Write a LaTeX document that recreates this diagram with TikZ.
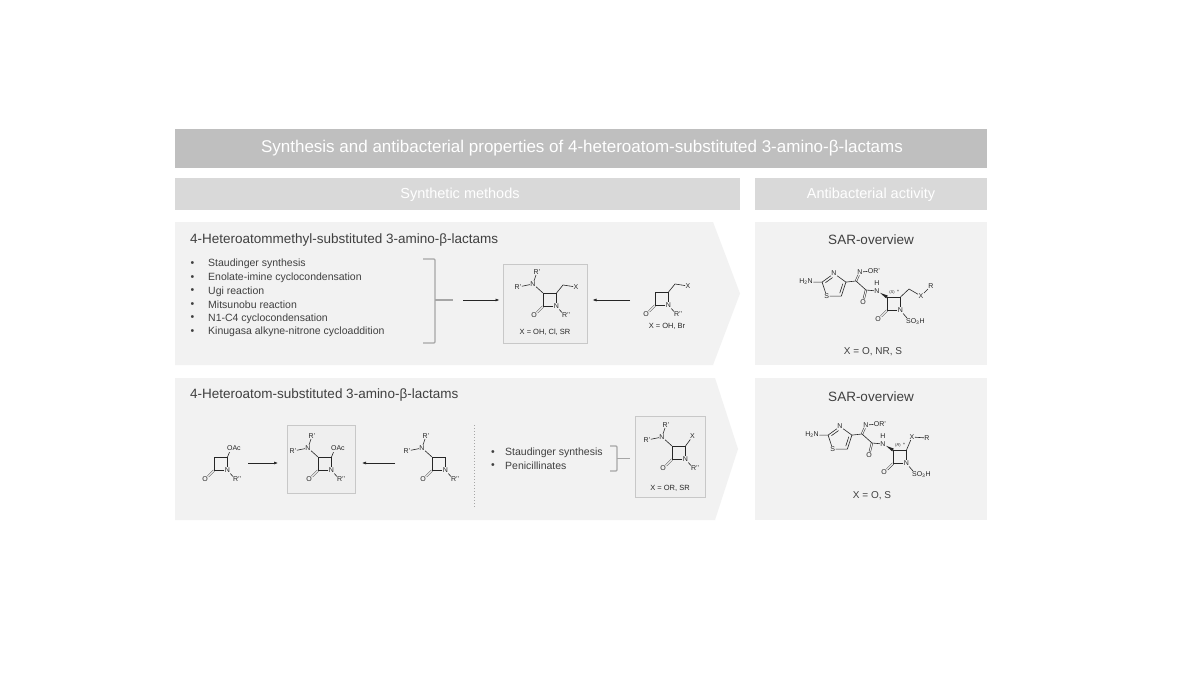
\documentclass[tikz,border=0pt]{standalone}
\usepackage{fontspec}
\setmainfont{Liberation Sans}
\usetikzlibrary{calc,arrows.meta}
\definecolor{hdr}{HTML}{BFBFBF}
\definecolor{subb}{HTML}{D9D9D9}
\definecolor{pbg}{HTML}{F2F2F2}
\definecolor{txt}{HTML}{404040}
\definecolor{brk}{HTML}{A6A6A6}
\definecolor{boxl}{HTML}{C8C8C8}
\definecolor{boxf}{HTML}{EFEFEF}
\definecolor{ink}{HTML}{262626}

% beta-lactam ring: #1 prefix, #2 N-substituent, #3 bond end, #4 label west anchor
\newcommand{\lactam}[4]{%
  \coordinate (#1c3) at (0,0);
  \coordinate (#1c4) at (13.5,0);
  \node[atom] (#1n1) at (13.5,13.5) {N};
  \coordinate (#1c2) at (0,13.5);
  \node[atom] (#1o) at (-9,22.5) {O};
  \coordinate (#1rb) at #3;
  \node[atom,anchor=west] (#1r) at #4 {#2};
  \draw[bond,dbl] (#1c2) -- (#1o);
  \draw[bond] (#1n1) -- (#1c2) -- (#1c3) -- (#1c4) -- (#1n1);
  \draw[bond] (#1n1) -- (#1rb);
}
% 3-amino substituent
\newcommand{\amine}[1]{%
  \node[atom] (#1na) at (-10,-9) {N};
  \node[atom] (#1rt) at (-6,-21) {R’};
  \node[atom] (#1rl) at (-25,-6) {R’};
  \draw[bond] (#1c3) -- (#1na);
  \draw[bond] (#1na) -- (#1rt);
  \draw[bond] (#1na) -- (#1rl);
}
% 4-acetoxy substituent
\newcommand{\acetoxy}[1]{%
  \coordinate (#1oacb) at (15.5,-4.8);
  \node[atom,anchor=west] (#1oac) at (12.5,-8.5) {OAc};
  \draw[bond] (#1c4) -- (#1oacb);
}
% SAR core (aminothiazolyl oxime side chain + monobactam)
\newcommand{\sarcore}[2]{%
  \coordinate (#1tc) at (-53,-11);
  \node[atom] (#1tn) at (-53,-23.5) {N};
  \coordinate (#1t4) at (-41.1,-14.9);
  \coordinate (#1t5) at (-45.65,-0.9);
  \node[atom] (#1ts) at (-60.35,-0.9) {S};
  \coordinate (#1t2) at (-64.9,-14.9);
  \node[atom] (#1nh) at (-81,-15) {H\textsubscript{2}N};
  \draw[bond] (#1t2) -- (#1tn) -- (#1t4) -- (#1t5) -- (#1ts) -- (#1t2);
  \draw[bond,shorten >=1.8pt,shorten <=0.6pt] ($(#1tc)!0.76!(#1t2)$) -- ($(#1tc)!0.76!(#1tn)$);
  \draw[bond,shorten >=0.6pt,shorten <=0.6pt] ($(#1tc)!0.76!(#1t4)$) -- ($(#1tc)!0.76!(#1t5)$);
  \draw[bond] (#1t2) -- (#1nh);
  \coordinate (#1ca) at (-31,-16);
  \node[atom] (#1nox) at (-27,-25) {N};
  \node[atom] (#1or) at (-13,-26) {OR’};
  \coordinate (#1cc) at (-21,-7);
  \node[atom] (#1oam) at (-24,5) {O};
  \node[atom] (#1nam) at (-10,-6) {N};
  \node[atom] (#1h) at (-10,-14) {H};
  \draw[bond,dbl] (#1ca) -- (#1nox);
  \draw[bond,dbl] (#1cc) -- (#1oam);
  \draw[bond] (#1t4) -- (#1ca) -- (#1cc) -- (#1nam);
  \draw[bond] (#1nox) -- (#1or);
  \lactam{#1}{SO\textsubscript{3}H}{(20,21)}{(18.5,25)}
  \fill[ink] ($(#1nam)!3.5pt!(#1c3)$) -- ($(#1c3)!1.6pt!90:(#1nam)$) -- ($(#1c3)!1.6pt!-90:(#1nam)$) -- cycle;
  \node[atom,font=\fontsize{4}{4}\selectfont] (#1st) at (5,-4.5) {(\textit{#2})};
  \node[atom,font=\fontsize{5}{5}\selectfont] (#1ast) at (11,-5) {*};
}

\begin{document}
\begin{tikzpicture}[x=1pt,y=-1pt,
  atom/.style={font=\fontsize{7}{7}\selectfont, inner sep=0.4pt, text=ink},
  bond/.style={draw=ink, line width=0.6pt},
  dbl/.style={double=pbg, double distance=1.1pt, line width=0.5pt},
  arr/.style={draw=ink, line width=0.65pt, -{Latex[length=4pt,width=3pt]}},
  brace/.style={draw=brk, line width=1.2pt, rounded corners=1pt},
  ttl/.style={font=\fontsize{13.5}{14}\selectfont, text=txt, anchor=west, inner sep=0},
  li/.style={font=\fontsize{10.5}{11}\selectfont, text=txt, anchor=west, inner sep=0},
  bul/.style={font=\fontsize{10.5}{11}\selectfont, text=txt, anchor=west, inner sep=0},
  boxst/.style={draw=boxl, fill=boxf, line width=1pt, inner sep=0},
  xlab/.style={font=\fontsize{7.5}{8}\selectfont, text=ink, inner sep=0},
  sarx/.style={font=\fontsize{10}{10}\selectfont, text=txt, inner sep=0}
]
\useasboundingbox (0,0) rectangle (1200,675);
\fill[white] (0,0) rectangle (1200,675);

% header bars
\fill[hdr] (175,129) rectangle (987,168);
\node[font=\fontsize{17}{17}\selectfont, text=white, inner sep=0] (title) at (582,148.5)
  {Synthesis and antibacterial properties of 4-heteroatom-substituted 3-amino-β-lactams};
\fill[subb] (175,178) rectangle (740,210);
\fill[subb] (755,178) rectangle (987,210);
\node[font=\fontsize{14.5}{14.5}\selectfont, text=white, inner sep=0] (synm) at (460,194.5) {Synthetic methods};
\node[font=\fontsize{14.5}{14.5}\selectfont, text=white, inner sep=0] (antb) at (871,194.5) {Antibacterial activity};

% panels
\fill[pbg] (175,222) -- (713,222) -- (740,293.5) -- (713,365) -- (175,365) -- cycle;
\fill[pbg] (175,378) -- (715,378) -- (738,449) -- (715,520) -- (175,520) -- cycle;
\fill[pbg] (755,222) rectangle (987,365);
\fill[pbg] (755,378) rectangle (987,520);

% ===== panel 1 =====
\node[ttl] (t1) at (190,240) {4-Heteroatommethyl-substituted 3-amino-β-lactams};
\foreach \i/\yy/\tx in {1/264/Staudinger synthesis, 2/278/Enolate-imine cyclocondensation,
  3/291.5/Ugi reaction, 4/305/Mitsunobu reaction, 5/318.5/N1-C4 cyclocondensation,
  6/332/Kinugasa alkyne-nitrone cycloaddition}{
  \node[bul] (pb\i) at (190.5,\yy) {•};
  \node[li] (pl\i) at (208,\yy) {\tx};
}
\coordinate (k1a) at (423,259);
\coordinate (k1b) at (435,259);
\coordinate (k1c) at (435,343);
\coordinate (k1d) at (423,343);
\coordinate (k1m) at (435,300);
\coordinate (k1t) at (453,300);
\draw[brace] (k1a) -- (k1b) -- (k1c) -- (k1d);
\draw[brace] (k1m) -- (k1t);

\node[boxst, minimum width=84pt, minimum height=79pt] (box1) at (545,303.5) {};
\coordinate (a1s) at (463,300);
\draw[arr, shorten >=3pt] (a1s) -- (box1.west |- a1s);
\coordinate (a2s) at (630,300);
\draw[arr, shorten >=5pt] (a2s) -- (box1.east |- a2s);

\begin{scope}[shift={(543,293)}]
  \lactam{m1}{R’’}{(19,19.5)}{(18.5,22)}
  \amine{m1}
  \coordinate (m1ch) at (20,-8);
  \node[atom] (m1x) at (33,-6) {X};
  \draw[bond] (m1c4) -- (m1ch) -- (m1x);
\end{scope}
\node[xlab] (x1) at (545,332) {X = OH, Cl, SR};

\begin{scope}[shift={(655,292)}]
  \lactam{m2}{R’’}{(19,19.5)}{(18.5,22)}
  \coordinate (m2ch) at (20,-8);
  \node[atom] (m2x) at (33,-6) {X};
  \draw[bond] (m2c4) -- (m2ch) -- (m2x);
\end{scope}
\node[xlab] (x2) at (667,326) {X = OH, Br};

% ===== panel 2 =====
\node[ttl] (t2) at (190,395) {4-Heteroatom-substituted 3-amino-β-lactams};

\begin{scope}[shift={(214,457)}]
  \lactam{m3}{R’’}{(19,19.5)}{(18.5,22)}
  \acetoxy{m3}
\end{scope}

\node[boxst, minimum width=68pt, minimum height=68pt] (box2) at (321,459) {};
\coordinate (b1s) at (248,463);
\coordinate (b1e) at (278,463);
\draw[arr] (b1s) -- (b1e);
\coordinate (b2s) at (395,463);
\coordinate (b2e) at (362,463);
\draw[arr] (b2s) -- (b2e);

\begin{scope}[shift={(318,457)}]
  \lactam{m4}{R’’}{(19,19.5)}{(18.5,22)}
  \amine{m4}
  \acetoxy{m4}
\end{scope}

\begin{scope}[shift={(432,457)}]
  \lactam{m5}{R’’}{(19,19.5)}{(18.5,22)}
  \amine{m5}
\end{scope}

\coordinate (dv1) at (474,425);
\coordinate (dv2) at (474,507);
\draw[brk, line width=1pt, dotted] (dv1) -- (dv2);

\node[bul] (qb1) at (491,453) {•};
\node[li] (ql1) at (505,453) {Staudinger synthesis};
\node[bul] (qb2) at (491,466) {•};
\node[li] (ql2) at (505,466) {Penicillinates};
\coordinate (k2a) at (610,446);
\coordinate (k2b) at (617,446);
\coordinate (k2c) at (617,471);
\coordinate (k2d) at (610,471);
\coordinate (k2m) at (617,458.5);
\coordinate (k2t) at (630,458.5);
\draw[brace] (k2a) -- (k2b) -- (k2c) -- (k2d);
\draw[brace] (k2m) -- (k2t);

\node[boxst, minimum width=70pt, minimum height=81pt] (box3) at (670,456.5) {};
\begin{scope}[shift={(672,446)}]
  \lactam{m6}{R’’}{(19,19.5)}{(18.5,22)}
  \amine{m6}
  \node[atom] (m6x) at (20.5,-9.5) {X};
  \draw[bond] (m6c4) -- (m6x);
\end{scope}
\node[xlab] (x3) at (670,488) {X = OR, SR};

% ===== SAR panels =====
\node[font=\fontsize{13.5}{14}\selectfont, text=txt, inner sep=0] (sar1) at (871,240) {SAR-overview};
\begin{scope}[shift={(887,297)}]
  \sarcore{s1}{S}
  \coordinate (s1ch) at (22,-8);
  \node[atom] (s1x) at (34,-1) {X};
  \node[atom] (s1r) at (44,-11) {R};
  \draw[bond] (s1c4) -- (s1ch) -- (s1x) -- (s1r);
\end{scope}
\node[sarx] (sx1) at (873,352) {X = O, NR, S};

\node[font=\fontsize{13.5}{14}\selectfont, text=txt, inner sep=0] (sar2) at (871,397) {SAR-overview};
\begin{scope}[shift={(893,450)}]
  \sarcore{s2}{R}
  \node[atom] (s2x) at (19,-13) {X};
  \node[atom] (s2r) at (34,-12) {R};
  \draw[bond] (s2c4) -- (s2x) -- (s2r);
\end{scope}
\node[sarx] (sx2) at (872,496) {X = O, S};

\end{tikzpicture}
\end{document}
